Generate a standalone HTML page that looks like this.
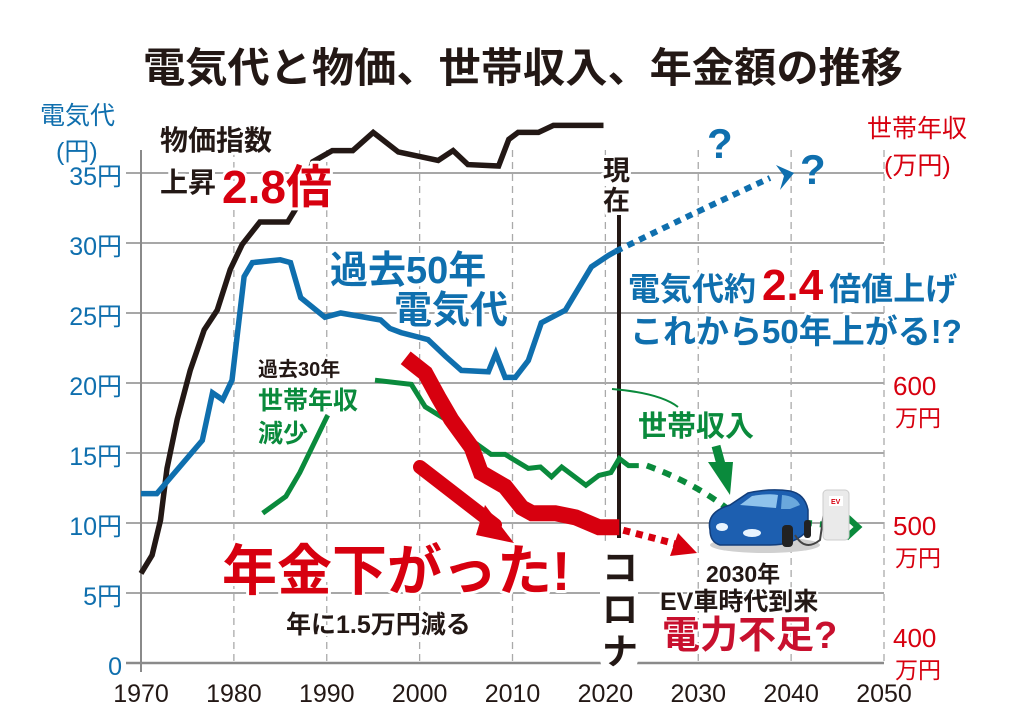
<!DOCTYPE html>
<html><head><meta charset="utf-8">
<style>
html,body{margin:0;padding:0;background:#fff;}
svg{display:block;font-family:"Liberation Sans","Noto Sans CJK JP",sans-serif;font-weight:bold;}
</style></head>
<body>
<svg id="chart" width="1024" height="720" viewBox="0 0 1024 720" xmlns="http://www.w3.org/2000/svg">
<text x="523" y="82" text-anchor="middle" font-size="41" fill="#231815" textLength="760" lengthAdjust="spacingAndGlyphs">電気代と物価、世帯収入、年金額の推移</text>
<g id="grid"></g>
<g id="axes"></g>
<g id="series"></g>
<g id="notes"></g>
</svg>
<script>
const years = [1970,1980,1990,2000,2010,2020,2030,2040,2050];
const leftTicks = [0,5,10,15,20,25,30,35];
const leftTickLabels = ["0","5円","10円","15円","20円","25円","30円","35円"];
const rightTicks = [400,500,600];
const rightTickLabels = ["400","500","600"];

const priceYears = [1970,1971.2,1972.1,1972.8,1973.9,1975.3,1976.8,1978.2,1979.6,1980.9,1982.8,1985.8,1986.9,1988.5,1990.6,1992.8,1995,1997.7,2002,2003.6,2005.2,2008.5,2009.6,2010.6,2012.8,2014.4,2019.8];
const priceVals = [6.4,7.7,10.2,13.9,17.4,20.9,23.8,25.2,28.1,29.9,31.5,31.5,32.7,35.8,36.6,36.6,37.9,36.5,35.9,36.6,35.6,35.5,37.4,37.9,37.9,38.4,38.4];

const elecYears = [1970,1971.7,1976.6,1977.7,1978.8,1979.8,1981.1,1982,1985,1986.1,1987.2,1989.8,1991.5,1995.8,1996.8,1998,2000.9,2002.8,2004.5,2007.4,2008.2,2009.2,2010.3,2011.7,2013.1,2015.7,2018.5,2020.3,2021.1];
const elecVals = [12.1,12.1,15.9,19.3,18.8,20.2,27.6,28.6,28.8,28.6,26.1,24.7,25,24.5,23.9,23.6,23.1,21.9,20.9,20.8,22.1,20.4,20.4,21.6,24.3,25.2,28.3,29.1,29.4];

const incomeYears1 = [1983.1,1985.6,1987.1,1990.1];
const incomeVals1 = [507,519,536,577];
const incomeYears2 = [1995.2,1999.1,2000.6,2002.8,2005.6,2007.7,2009.2,2011.7,2013,2014.2,2015.3,2017.9,2019.3,2020.6,2021.5,2022.5,2023.6];
const incomeVals2 = [602,599,583,574,559,549,549,539,540,533,540,527,534,536,546,541,541];

const pensionYears = [1998.5,2000.6,2002,2003.4,2005.6,2006.6,2009.2,2011,2012.1,2014.6,2016.8,2019.3,2021.5];
const pensionVals = [21.8,20.7,19,17.4,15.4,13.6,12.6,11.1,10.7,10.7,10.4,9.7,9.7];

const NS="http://www.w3.org/2000/svg";
const X0=141,X1=884,Y0=663;
function xs(yr){return X0+(yr-1970)*(X1-X0)/80;}
function yl(v){return Y0-v*14;}
function yrr(r){return Y0-(r-400)*1.4;}
function mk(tag,attrs,parent){const e=document.createElementNS(NS,tag);for(const k in attrs)e.setAttribute(k,attrs[k]);parent.appendChild(e);return e;}
const grid=document.getElementById('grid'),axes=document.getElementById('axes'),series=document.getElementById('series'),notes=document.getElementById('notes');

leftTicks.forEach((t,i)=>{
  if(t>0){const l=mk('line',{x1:126,x2:X1,y1:yl(t),y2:yl(t),stroke:'#8a8a8a','stroke-width':1.5},grid);
  
  }
  const tx=mk('text',{x:122,y:yl(t)+12,'text-anchor':'end','font-size':25,'font-weight':'normal',fill:'#0f6fae'},axes);
  tx.textContent=leftTickLabels[i];
  
  
});
years.forEach((y,i)=>{
  if(i>0){const l=mk('line',{x1:xs(y),x2:xs(y),y1:150,y2:Y0,stroke:'#aaa','stroke-width':1.3,'stroke-dasharray':'7 5'},grid);
  
  }
  const tx=mk('text',{x:xs(y),y:702,'text-anchor':'middle','font-size':25,'font-weight':'normal',fill:'#231815'},axes);
  tx.textContent=y;
  
  
});
const ax=mk('line',{x1:X0,x2:X0,y1:150,y2:672,stroke:'#8a8a8a','stroke-width':2},axes);


const bx=mk('line',{x1:126,x2:X1,y1:Y0,y2:Y0,stroke:'#8a8a8a','stroke-width':2.5},axes);


rightTicks.forEach((r,i)=>{
  const off = r===400 ? -28 : 0;
  const tx=mk('text',{x:893,y:yrr(r)+12+off,'font-size':26,'font-weight':'normal',fill:'#d7000f'},axes);
  tx.textContent=rightTickLabels[i];
  
  
  const tx2=mk('text',{x:895,y:yrr(r)+43+off,'font-size':23,'font-weight':'normal',fill:'#d7000f'},axes);
  tx2.textContent='万円';
  
  
});

function poly(xsArr,ysArr,fy,color,w,name){
  const pts=xsArr.map((x,i)=>xs(x).toFixed(1)+','+fy(ysArr[i]).toFixed(1)).join(' ');
  const p=mk('polyline',{points:pts,fill:'none',stroke:color,'stroke-width':w,'stroke-linejoin':'miter','stroke-linecap':'butt'},series);
  
  
  return p;
}
const nowL=mk('line',{x1:619,x2:619,y1:215,y2:672,stroke:'#231815','stroke-width':4},series);



poly(priceYears,priceVals,yl,'#231815',5.5,'price-index-line');
poly(elecYears,elecVals,yl,'#0f6fae',5.5,'electricity-line');
poly(incomeYears1,incomeVals1,yrr,'#0a8a3c',5,'income-line-early');
poly(incomeYears2,incomeVals2,yrr,'#0a8a3c',5,'income-line');
poly(pensionYears,pensionVals,yl,'#d7000f',16,'pension-line');

const ex=xs(elecYears[elecYears.length-1]),ey=yl(elecVals[elecVals.length-1]);
const bp=mk('path',{d:`M${ex},${ey} Q700,210 770,178`,fill:'none',stroke:'#0f6fae','stroke-width':6,'stroke-dasharray':'7 6'},series);


const ba=mk('path',{d:'M776,165 L794,173 L780,190 L784,176 Z',fill:'#0f6fae'},series);


const ix=xs(incomeYears2[incomeYears2.length-1]),iy=yrr(incomeVals2[incomeVals2.length-1]);
const gp=mk('path',{d:`M${ix+8},${iy} Q700,485 735,515 L845,527`,fill:'none',stroke:'#0a8a3c','stroke-width':6,'stroke-dasharray':'9 8'},series);


const ga=mk('path',{d:'M846,516 L858,527 L846,538',fill:'none',stroke:'#0a8a3c','stroke-width':6},series);


const px=xs(pensionYears[pensionYears.length-1]),py=yl(pensionVals[pensionVals.length-1]);
const rp=mk('path',{d:`M${px+4},${py+3} L680,545`,fill:'none',stroke:'#d7000f','stroke-width':7,'stroke-dasharray':'7 6'},series);


const ra=mk('path',{d:'M678,533 L697,553 L670,556 Z',fill:'#d7000f'},series);


</script>

<script>
const N=document.getElementById('notes');
function T(x,y,s,txt,col,name,extra,weight){
  const t=document.createElementNS(NS,'text');
  t.setAttribute('x',x);t.setAttribute('y',y);t.setAttribute('font-size',s);t.setAttribute('fill',col);
  if(weight)t.setAttribute('font-weight',weight);
  t.setAttribute('stroke','#fff');t.setAttribute('stroke-width',extra||0);t.setAttribute('paint-order','stroke');t.setAttribute('stroke-linejoin','round');
  t.textContent=txt;
  
  
  N.appendChild(t);return t;
}
T(40,124,25,'電気代','#0f6fae','left-axis-title',0,'normal');
T(56,160,25,'(円)','#0f6fae','left-axis-unit',0,'normal');
T(867,137,25,'世帯年収','#d7000f','right-axis-title',0,'normal');
T(884,174,25,'(万円)','#d7000f','right-axis-unit',0,'normal');
T(160,150,28,'物価指数','#231815','price-label',6);
T(160,192,28,'上昇','#231815','price-label-2',6);
T(222,203,46,'2.8倍','#d7000f','price-multiplier',6);
T(603,180,27,'現','#231815','now-label',6);
T(603,210,27,'在','#231815','now-label-2',6);
T(330,283,38,'過去50年','#0f6fae','elec-label',6);
T(394,323,38,'電気代','#0f6fae','elec-label-2',6);
T(707,158,42,'?','#0f6fae','question-1');
T(800,184,42,'?','#0f6fae','question-2');
const t1=T(628,300,32,'','#0f6fae','elec-forecast',6);
t1.innerHTML='電気代約<tspan font-size="44" fill="#d7000f" dx="6">2.4</tspan><tspan dx="6">倍値上げ</tspan>';
T(630,343,33,'これから50年上がる!?','#0f6fae','elec-forecast-2',6);
T(258,376,20,'過去30年','#231815','income-label-1',5);
T(258,409,25,'世帯年収','#0a8a3c','income-label-2',5);
T(258,442,25,'減少','#0a8a3c','income-label-3',5);
T(638,436,29,'世帯収入','#0a8a3c','income-now-label',6);
T(222,590,55,'年金下がった!','#d7000f','pension-label',6);
T(286,633,25,'年に1.5万円減る','#231815','pension-sub',5);
T(706,582,23,'2030年','#231815','ev-label-1',4);
T(660,610,25,'EV車時代到来','#231815','ev-label-2',4);
T(662,648,38,'電力不足?','#c8102e','ev-label-3',4);
const cb=document.createElementNS(NS,'rect');
cb.setAttribute('x',600);cb.setAttribute('y',538);cb.setAttribute('width',38);cb.setAttribute('height',135);cb.setAttribute('fill','#fff');cb.setAttribute('rx',14);


N.appendChild(cb);
T(602,580,36,'コ','#231815','corona-label');
T(602,622,36,'ロ','#231815','corona-label-2');
T(602,664,36,'ナ','#231815','corona-label-3');

function P(d,attrs,name){const p=document.createElementNS(NS,'path');p.setAttribute('d',d);for(const k in attrs)p.setAttribute(k,attrs[k]);


N.appendChild(p);return p;}
P('M420,467 L495,525',{stroke:'#d7000f','stroke-width':14,fill:'none','stroke-linecap':'round'},'pension-trend-arrow');
P('M485,505 L514,543 L476,535 Z',{fill:'#d7000f'},'pension-trend-arrowhead');
P('M612,389 Q660,393 678,407',{stroke:'#0a8a3c','stroke-width':2,fill:'none'},'income-pointer-curve');
P('M716,446 L722,468',{stroke:'#0a8a3c','stroke-width':9,fill:'none'},'income-pointer-arrow');
P('M708,462 L733,462 L730,495 Z',{fill:'#0a8a3c'},'income-pointer-arrowhead');
const car=document.createElementNS(NS,'g');


car.innerHTML='<ellipse cx="765" cy="545" rx="55" ry="8" fill="#d0d0d0"/>'+
'<path d="M710,530 Q706,512 730,505 L748,493 Q770,488 790,491 Q805,494 808,510 L808,530 Q795,545 770,545 L720,545 Q710,542 710,530 Z" fill="#1d5fb0" stroke="#123d7a" stroke-width="1.5"/>'+
'<path d="M740,505 L752,496 Q770,493 778,495 L776,508 Z" fill="#8fc3ec"/>'+
'<path d="M782,495 Q796,496 800,505 L790,509 L781,509 Z" fill="#6aa8dc"/>'+
'<ellipse cx="722" cy="527" rx="6" ry="4" fill="#e8f4ff"/>'+
'<ellipse cx="752" cy="533" rx="9" ry="4" fill="#e8f4ff"/>'+
'<rect x="782" y="525" width="11" height="22" rx="4" fill="#222"/>'+
'<rect x="804" y="520" width="7" height="18" rx="3" fill="#222"/>'+
'<path d="M795,535 Q805,552 820,540 L825,505" fill="none" stroke="#444" stroke-width="2"/>'+
'<rect x="823" y="490" width="26" height="50" rx="4" fill="#eaeaea" stroke="#ccc"/>'+
'<rect x="829" y="496" width="14" height="10" fill="#fff"/>'+
'<text x="831" y="504" font-size="7" fill="#d7000f">EV</text>';
N.appendChild(car);
</script>
</body></html>
